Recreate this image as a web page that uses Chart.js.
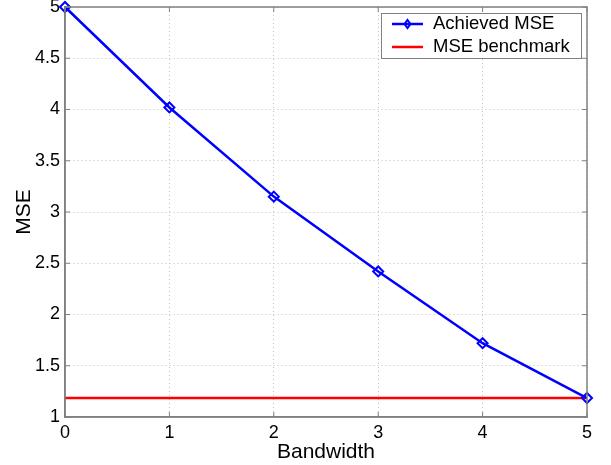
<!DOCTYPE html>
<html><head><meta charset="utf-8">
<script src="https://cdn.jsdelivr.net/npm/chart.js@4"></script>
<style>html,body{margin:0;padding:0;background:#fff}#wrap{width:611px;height:465px}</style>
</head><body><div id="wrap"><canvas id="c" width="611" height="465"></canvas></div>
<script>
const bandwidth = [0, 1, 2, 3, 4, 5];
const achievedMSE = [5.0, 4.02, 3.15, 2.42, 1.72, 1.185];
const benchmarkMSE = 1.185;
const yTicks = [1, 1.5, 2, 2.5, 3, 3.5, 4, 4.5, 5];
const xTicks = [0, 1, 2, 3, 4, 5];
const seriesLabels = ['Achieved MSE', 'MSE benchmark'];

const FONT = 'Liberation Sans, Arial, sans-serif';

const framePlugin = {
  id: 'frame',
  afterDraw(chart) {
    const {ctx, chartArea: a, scales} = chart;
    ctx.save();
    ctx.strokeStyle = '#808080';
    ctx.lineWidth = 1.5;
    ctx.strokeRect(a.left, a.top, a.right - a.left, a.bottom - a.top);
    ctx.lineWidth = 1;
    const L = 5;
    xTicks.forEach(v => {
      const x = scales.x.getPixelForValue(v);
      ctx.beginPath(); ctx.moveTo(x, a.bottom); ctx.lineTo(x, a.bottom - L); ctx.stroke();
      ctx.beginPath(); ctx.moveTo(x, a.top); ctx.lineTo(x, a.top + L); ctx.stroke();
    });
    yTicks.forEach(v => {
      const y = scales.y.getPixelForValue(v);
      ctx.beginPath(); ctx.moveTo(a.left, y); ctx.lineTo(a.left + L, y); ctx.stroke();
      ctx.beginPath(); ctx.moveTo(a.right, y); ctx.lineTo(a.right - L, y); ctx.stroke();
    });
    // legend box
    const bx = 381, by = 13, bw = 200, bh = 45;
    ctx.fillStyle = '#fff';
    ctx.fillRect(bx, by, bw, bh);
    ctx.strokeStyle = '#808080';
    ctx.lineWidth = 1;
    ctx.strokeRect(bx + 0.5, by + 0.5, bw, bh);
    ctx.font = '18.5px ' + FONT;
    ctx.textBaseline = 'middle';
    ctx.textAlign = 'left';
    const rows = [by + 11, by + 34];
    chart.data.datasets.forEach((ds, i) => {
      const yy = rows[i];
      ctx.strokeStyle = ds.borderColor;
      ctx.lineWidth = 2.5;
      ctx.beginPath(); ctx.moveTo(bx + 11, yy); ctx.lineTo(bx + 42, yy); ctx.stroke();
      if (i === 0) {
        ctx.lineWidth = 2;
        ctx.beginPath();
        ctx.moveTo(bx + 26.5, yy - 4); ctx.lineTo(bx + 29.5, yy); ctx.lineTo(bx + 26.5, yy + 4); ctx.lineTo(bx + 23.5, yy); ctx.closePath();
        ctx.stroke();
      }
      ctx.fillStyle = '#000';
      ctx.fillText(ds.label, bx + 52, yy);
    });
    ctx.restore();
  }
};

new Chart(document.getElementById('c'), {
  type: 'scatter',
  data: {
    datasets: [
      {
        label: seriesLabels[0],
        data: bandwidth.map((b, i) => ({x: b, y: achievedMSE[i]})),
        showLine: true,
        borderColor: '#0000ff',
        backgroundColor: 'rgba(0,0,0,0)',
        borderWidth: 2.5,
        pointStyle: 'rectRot',
        pointRadius: 5,
        pointBorderWidth: 2,
        pointBorderColor: '#0000ff',
        pointBackgroundColor: 'rgba(0,0,0,0)',
        clip: false
      },
      {
        label: seriesLabels[1],
        data: [{x: bandwidth[0], y: benchmarkMSE}, {x: bandwidth[bandwidth.length - 1], y: benchmarkMSE}],
        showLine: true,
        borderColor: '#ff0000',
        backgroundColor: '#ff0000',
        borderWidth: 2.5,
        pointRadius: 0,
        clip: false
      }
    ]
  },
  options: {
    responsive: false,
    animation: false,
    devicePixelRatio: 1,
    layout: {padding: {top: 6, right: 24, left: 0, bottom: 0}},
    plugins: {legend: {display: false}, tooltip: {enabled: false}},
    scales: {
      x: {
        type: 'linear', min: 0, max: 5,
        afterBuildTicks: s => { s.ticks = xTicks.map(v => ({value: v})); },
        afterFit: s => { s.height = 48; s.paddingLeft = 0; s.paddingRight = 0; },
        grid: {color: '#c0c0c0', lineWidth: 1, drawTicks: false},
        border: {display: true, color: '#808080', width: 1.5, dash: [1, 3]},
        ticks: {color: '#000', font: {size: 18, family: FONT}, padding: 5, maxRotation: 0, callback: v => String(v)},
        title: {display: true, text: 'Bandwidth', color: '#000', font: {size: 21, family: FONT}, padding: {top: -3, bottom: 0}}
      },
      y: {
        type: 'linear', min: 1, max: 5,
        afterBuildTicks: s => { s.ticks = yTicks.map(v => ({value: v})); },
        afterFit: s => { s.width = 65; s.paddingTop = 0; s.paddingBottom = 0; },
        grid: {color: '#c0c0c0', lineWidth: 1, drawTicks: false},
        border: {display: true, color: '#808080', width: 1.5, dash: [1, 3]},
        ticks: {color: '#000', font: {size: 18, family: FONT}, padding: 5, callback: v => String(v)},
        title: {display: true, text: 'MSE', color: '#000', font: {size: 21, family: FONT}, padding: {top: 12, bottom: 4}}
      }
    }
  },
  plugins: [framePlugin]
});
</script>
</body></html>
